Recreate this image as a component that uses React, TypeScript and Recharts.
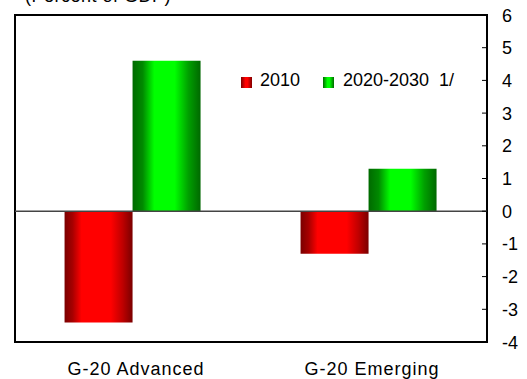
import React from 'react';
import { BarChart, Bar, XAxis, YAxis, ReferenceLine, ReferenceArea, Legend } from 'recharts';

const categories = ['G-20 Advanced', 'G-20 Emerging'];
const values2010 = [-3.4, -1.3];
const values2020 = [4.6, 1.3];
const yTicks = [-4, -3, -2, -1, 0, 1, 2, 3, 4, 5, 6];
const seriesNames = ['2010', '2020-2030  1/'];
const title = '(Percent of GDP)';

const FONT = '"Liberation Sans", Arial, sans-serif';

const data = categories.map((c, i) => ({ name: c, s2010: values2010[i], s2020: values2020[i] }));

const YTick = (props: any) => {
  const { x, y, payload } = props;
  return (
    <g>
      <line x1={x - 5} x2={x} y1={y} y2={y} stroke="#000" strokeWidth={1} />
      <text x={x + 15} y={y} dy={6.5} fontSize={18} fill="#000" fontFamily={FONT} textAnchor="start">
        {payload.value}
      </text>
    </g>
  );
};

const XTick = (props: any) => {
  const { x, y, payload } = props;
  return (
    <text x={x + 3} y={y} dy={13} fontSize={18} fill="#000" fontFamily={FONT} textAnchor="middle" letterSpacing={1}>
      {payload.value}
    </text>
  );
};

const LegendContent = () => (
  <div style={{ position: 'relative', height: 0, fontFamily: FONT, fontSize: 18, color: '#000' }}>
    <div style={{ position: 'absolute', left: 241, top: 77, width: 11, height: 11, background: 'linear-gradient(to right, #7a0000, #ff0000 40%, #ff0000 60%, #800000)' }} />
    <div style={{ position: 'absolute', left: 260, top: 71, lineHeight: '18px', whiteSpace: 'pre' }}>{seriesNames[0]}</div>
    <div style={{ position: 'absolute', left: 323, top: 77, width: 11, height: 11, background: 'linear-gradient(to right, #006a00, #00ff00 40%, #00ff00 60%, #006800)' }} />
    <div style={{ position: 'absolute', left: 343, top: 71, lineHeight: '18px', whiteSpace: 'pre' }}>{seriesNames[1]}</div>
  </div>
);

export default function App() {
  return (
    <div style={{ position: 'absolute', left: 0, top: 0, width: 527, height: 379, overflow: 'hidden', background: '#fff' }}>
      <div style={{ position: 'absolute', left: 25, top: -13, fontFamily: FONT, fontSize: 18, lineHeight: '18px', letterSpacing: 0.5, whiteSpace: 'pre', color: '#000' }}>
        {title}
      </div>
      <BarChart
        width={527}
        height={379}
        data={data}
        margin={{ top: 15, left: 15, right: 0, bottom: 0 }}
        barCategoryGap="21%"
        barGap={0}
      >
        <defs>
          <linearGradient id="redGrad" x1="0" y1="0" x2="1" y2="0">
            <stop offset="0%" stopColor="#7a0000" />
            <stop offset="12%" stopColor="#a80000" />
            <stop offset="25%" stopColor="#ff0000" />
            <stop offset="68%" stopColor="#ff0000" />
            <stop offset="85%" stopColor="#c00000" />
            <stop offset="100%" stopColor="#7a0000" />
          </linearGradient>
          <linearGradient id="greenGrad" x1="0" y1="0" x2="1" y2="0">
            <stop offset="0%" stopColor="#006a00" />
            <stop offset="15%" stopColor="#008a00" />
            <stop offset="32%" stopColor="#00ff00" />
            <stop offset="62%" stopColor="#00ff00" />
            <stop offset="82%" stopColor="#00a000" />
            <stop offset="100%" stopColor="#006800" />
          </linearGradient>
        </defs>
        <XAxis
          dataKey="name"
          axisLine={false}
          tickLine={false}
          tickSize={0}
          tickMargin={20}
          height={37}
          tick={<XTick />}
          interval={0}
        />
        <YAxis
          orientation="right"
          domain={[-4, 6]}
          ticks={yTicks}
          width={40}
          axisLine={false}
          tickLine={false}
          tickSize={0}
          tickMargin={0}
          tick={<YTick />}
          interval={0}
          allowDataOverflow
        />
        <ReferenceArea y1={-4} y2={6} fill="none" stroke="#000" strokeWidth={2} ifOverflow="visible" />
        <ReferenceLine y={0} stroke="#444" strokeWidth={1.5} />
        <Legend content={<LegendContent />} wrapperStyle={{ left: 0, top: 0, width: 527, height: 0 }} />
        <Bar dataKey="s2010" name={seriesNames[0]} fill="url(#redGrad)" isAnimationActive={false} />
        <Bar dataKey="s2020" name={seriesNames[1]} fill="url(#greenGrad)" isAnimationActive={false} />
      </BarChart>
    </div>
  );
}
